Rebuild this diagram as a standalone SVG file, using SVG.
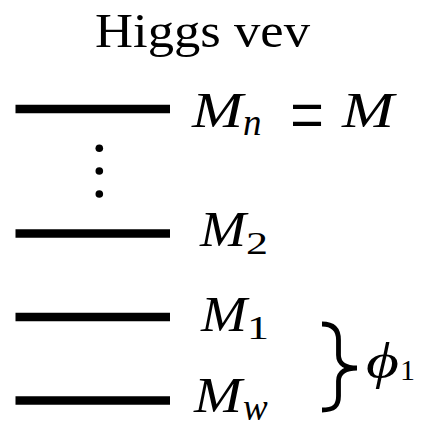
<svg xmlns="http://www.w3.org/2000/svg" width="421" height="424" viewBox="0 0 421 424">
<defs>
<marker id="none" markerWidth="1" markerHeight="1"/>
</defs>
<rect width="421" height="424" fill="#fff"/>
<g id="title"><text font-family="Liberation Serif" x="95" y="47" font-size="49" textLength="215" lengthAdjust="spacingAndGlyphs">Higgs vev</text></g>
<g id="level-n" stroke-width="8.5"><line stroke="#000" x1="15.5" y1="109" x2="170" y2="109"/>
<text font-family="Liberation Serif" stroke="none" x="192" y="127" font-size="51" font-style="italic" textLength="51" lengthAdjust="spacingAndGlyphs">M</text>
<text font-family="Liberation Serif" stroke="none" x="243" y="135" font-size="37" font-style="italic">n</text>
<text font-family="Liberation Serif" stroke="none" x="290" y="144" font-size="85" textLength="34" lengthAdjust="spacingAndGlyphs">=</text>
<text font-family="Liberation Serif" stroke="none" x="342" y="127" font-size="51" font-style="italic" textLength="52" lengthAdjust="spacingAndGlyphs">M</text></g>
<g id="dots"><circle cx="99.3" cy="148.3" r="3.8"/><circle cx="99.3" cy="171" r="3.8"/><circle cx="99.3" cy="194" r="3.8"/></g>
<g id="level-2"><line stroke="#000" stroke-width="8.5" x1="15.5" y1="233.5" x2="170" y2="233.5"/>
<text font-family="Liberation Serif" x="200" y="245.5" font-size="51" font-style="italic" textLength="46" lengthAdjust="spacingAndGlyphs">M</text>
<text font-family="Liberation Serif" x="246" y="253.5" font-size="32" textLength="22" lengthAdjust="spacingAndGlyphs">2</text></g>
<g id="level-1"><line stroke="#000" stroke-width="8.5" x1="15.5" y1="317" x2="170" y2="317"/>
<text font-family="Liberation Serif" x="201" y="331" font-size="51" font-style="italic" textLength="46" lengthAdjust="spacingAndGlyphs">M</text>
<text font-family="Liberation Serif" x="247" y="338.5" font-size="33" textLength="22" lengthAdjust="spacingAndGlyphs">1</text></g>
<g id="level-w"><line stroke="#000" stroke-width="8.5" x1="15.5" y1="400.5" x2="170" y2="400.5"/>
<text font-family="Liberation Serif" x="194" y="412" font-size="51" font-style="italic" textLength="48" lengthAdjust="spacingAndGlyphs">M</text>
<text font-family="Liberation Serif" x="243" y="420" font-size="37" font-style="italic">w</text></g>
<g id="phi"><text font-family="Liberation Serif" x="366" y="378" font-size="50" font-style="italic" textLength="33" lengthAdjust="spacingAndGlyphs">ϕ</text><text font-family="Liberation Serif" x="400" y="380" font-size="30">1</text></g>
<g id="connectors">
<path d="M322,324 C334,324 338.5,330 338.5,340 L338.5,355 C338.5,364 346,368 357,368 C346,368 338.5,372 338.5,381 L338.5,396 C338.5,406 334,410 322,410" fill="none" stroke="#000" stroke-width="4.8"/>
</g>
</svg>
